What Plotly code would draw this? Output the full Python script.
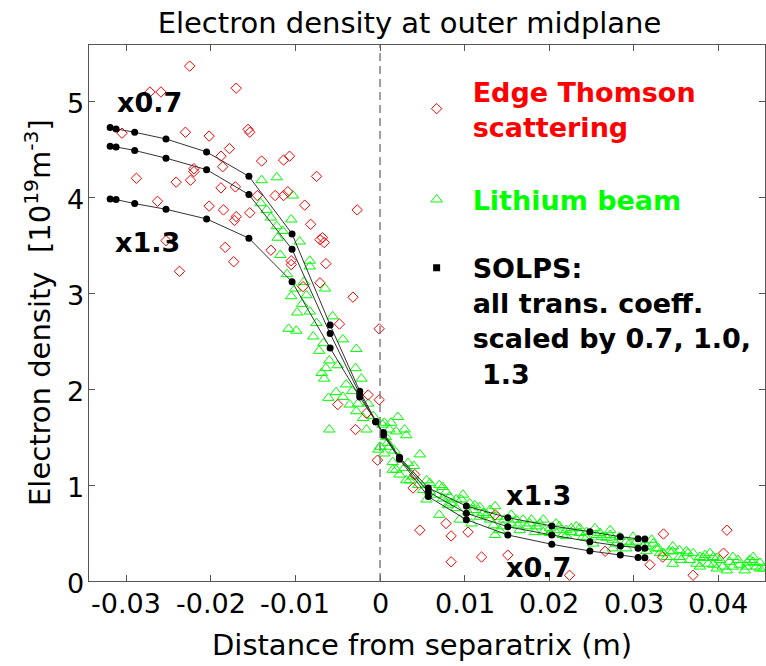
import plotly.graph_objects as go

# ---------------- data ----------------
x_tick_vals = [-0.03, -0.02, -0.01, 0, 0.01, 0.02, 0.03, 0.04]
x_tick_text = ["-0.03", "-0.02", "-0.01", "0", "0.01", "0.02", "0.03", "0.04"]
y_tick_vals = [0, 1, 2, 3, 4, 5]
y_tick_text = ["0", "1", "2", "3", "4", "5"]

# Edge Thomson scattering (x [m], ne [1e19 m^-3])
thomson_x = [-0.0225, -0.0272, -0.0259, -0.0170, -0.0305, -0.0230, -0.0202, -0.0156, -0.0154, -0.0178,
             -0.0188, -0.0186, -0.0220, -0.0220, -0.0140, -0.0114, -0.0107, -0.0288, -0.0241, -0.0224,
             -0.0188, -0.0171, -0.0145, -0.0124, -0.0114, -0.0109, -0.0075, -0.0263, -0.0202, -0.0185,
             -0.0170, -0.0172, -0.0154, -0.0089, -0.0082, -0.0027, -0.0253, -0.0183, -0.0129, -0.0071,
             -0.0066, -0.0068, -0.0237, -0.0173, -0.0105, -0.0105, -0.0064, -0.0091, -0.0071, -0.0032,
             -0.0048, -0.0001, -0.0014, -0.0001, -0.0050, -0.0016, -0.0029, -0.0003, 0.0041, 0.0039,
             0.0047, 0.0078, 0.0084, 0.0104, 0.0084, 0.0120, 0.0136, 0.0151, 0.0224, 0.0266,
             0.0319, 0.0335, 0.0334, 0.0370, 0.0406, 0.0410]
thomson_y = [5.37, 5.10, 5.10, 5.14, 4.67, 4.68, 4.64, 4.71, 4.68, 4.51,
             4.43, 4.32, 4.30, 4.27, 4.38, 4.39, 4.43, 4.20, 4.16, 4.18,
             4.10, 4.11, 4.02, 4.02, 4.02, 4.06, 4.22, 3.96, 3.91, 3.87,
             3.80, 3.76, 3.84, 3.92, 3.72, 3.87, 3.55, 3.48, 3.45, 3.56,
             3.53, 3.58, 3.23, 3.33, 3.34, 3.30, 3.31, 3.07, 3.11, 2.96,
             2.68, 2.63, 1.94, 1.89, 1.84, 1.75, 1.58, 1.26, 1.11, 0.97,
             0.53, 0.60, 0.47, 0.51, 0.20, 0.25, 0.69, 0.27, 0.06, 0.31,
             0.17, 0.49, 0.25, 0.06, 0.29, 0.53]

# Lithium beam
li_x = [-0.0140, -0.0122, -0.0103, -0.0141, -0.0134, -0.0129, -0.0105, -0.0122, -0.0115, -0.0121,
        -0.0095, -0.0083, -0.0083, -0.0090, -0.0065, -0.0105, -0.0092, -0.0083, -0.0098, -0.0056,
        -0.0075, -0.0108, -0.0099, -0.0044, -0.0067, -0.0028, -0.0064, -0.0029, -0.0069, -0.0066,
        -0.0022, -0.0052, -0.0061, -0.0044, -0.0036, -0.0026, -0.0014, -0.0028, -0.0060, -0.0016,
        0.0005, 0.0021, 0.0013, 0.0011, 0.0019, 0.0029, 0.0047, 0.0000, -0.0002, 0.0009,
        0.0015, 0.0019, 0.0029, 0.0023, 0.0031, 0.0039, 0.0059, 0.0074, 0.0051, 0.0067,
        0.0082, 0.0098, 0.0003, 0.0031, 0.0011, 0.0005, 0.0033, 0.0015, 0.0035, 0.0055,
        0.0070, 0.0059, 0.0074, 0.0055, 0.0080, 0.0090, 0.0110, 0.0118, 0.0136, 0.0070,
        0.0094, 0.0108, 0.0134, 0.0141, 0.0136, 0.0155, 0.0165, 0.0179, 0.0185, 0.0193,
        0.0206, 0.0220, 0.0226, 0.0236, 0.0244, 0.0220, 0.0256, 0.0268, 0.0275, 0.0291,
        0.0252, 0.0275, 0.0299, 0.0315, 0.0327, 0.0331, 0.0342, 0.0354, 0.0370, 0.0366,
        0.0382, 0.0394, 0.0402, 0.0413, 0.0425, 0.0437, 0.0445, 0.0453, 0.0346, 0.0378,
        0.0410, 0.0354, 0.0390, 0.0434, 0.0441, 0.0398,
        0.0090, 0.0106, 0.0118, 0.0126, 0.0130, 0.0145, 0.0161, 0.0173, 0.0189, 0.0201,
        0.0212, 0.0232, 0.0240, 0.0260, 0.0272, 0.0279, 0.0295, 0.0311, 0.0323, 0.0335,
        0.0346, 0.0362, 0.0378, 0.0394, 0.0417, 0.0433, 0.0449,
        0.0078, 0.0084, 0.0096, 0.0104, 0.0112, 0.0122, 0.0130, 0.0139, 0.0147, 0.0155,
        0.0163, 0.0169, 0.0177, 0.0183, 0.0193, 0.0201, 0.0208, 0.0216, 0.0226, 0.0236,
        0.0244, 0.0254, 0.0262, 0.0272, 0.0283, 0.0291, 0.0303, 0.0315, 0.0321, 0.0329,
        0.0339, 0.0346, 0.0356, 0.0364, 0.0374, 0.0384, 0.0388, 0.0398, 0.0405, 0.0417,
        0.0423, 0.0431, 0.0441, 0.0449,
        -0.0118, -0.0110, -0.0100, -0.0087, -0.0079, -0.0072, -0.0060, -0.0050, -0.0040, -0.0033,
        -0.0020, -0.0008, 0.0007, 0.0017, 0.0040, 0.0045]
li_y = [4.18, 4.21, 4.02, 3.94, 3.87, 3.79, 3.77, 3.70, 3.65, 3.58,
        3.54, 3.34, 3.28, 3.12, 3.05, 2.97, 2.89, 2.81, 2.80, 2.76,
        2.69, 2.63, 2.61, 2.52, 2.48, 2.42, 2.22, 2.22, 2.17, 2.11,
        2.11, 1.97, 1.91, 1.92, 1.84, 1.85, 1.85, 1.77, 1.58, 1.58,
        1.65, 1.71, 1.65, 1.58, 1.56, 1.58, 1.32, 1.40, 1.37, 1.44,
        1.24, 1.16, 1.18, 1.11, 1.05, 1.09, 1.02, 0.98, 0.95, 0.90,
        0.88, 0.90, 1.63, 1.52, 1.40, 1.33, 1.23, 1.16, 1.05, 1.05,
        1.00, 0.93, 0.86, 0.85, 0.79, 0.76, 0.74, 0.77, 0.78, 0.69,
        0.64, 0.60, 0.58, 0.53, 0.48, 0.60, 0.53, 0.64, 0.57, 0.51,
        0.53, 0.53, 0.55, 0.50, 0.51, 0.47, 0.48, 0.45, 0.43, 0.41,
        0.39, 0.34, 0.46, 0.36, 0.34, 0.29, 0.31, 0.25, 0.29, 0.22,
        0.24, 0.17, 0.22, 0.20, 0.17, 0.22, 0.15, 0.13, 0.18, 0.15,
        0.11, 0.32, 0.29, 0.19, 0.25, 0.13,
        0.85, 0.81, 0.67, 0.69, 0.64, 0.57, 0.64, 0.57, 0.60, 0.55,
        0.57, 0.57, 0.46, 0.50, 0.48, 0.39, 0.39, 0.36, 0.39, 0.29,
        0.36, 0.31, 0.25, 0.25, 0.25, 0.15, 0.19,
        0.93, 0.81, 0.85, 0.72, 0.79, 0.71, 0.74, 0.67, 0.64, 0.69,
        0.58, 0.64, 0.60, 0.51, 0.64, 0.50, 0.60, 0.48, 0.51, 0.55,
        0.45, 0.55, 0.46, 0.53, 0.46, 0.34, 0.41, 0.31, 0.43, 0.34,
        0.25, 0.31, 0.22, 0.29, 0.18, 0.27, 0.18, 0.24, 0.15, 0.15,
        0.22, 0.11, 0.20, 0.13,
        3.40, 3.20, 3.05, 2.98, 2.55, 2.40, 2.30, 2.25, 2.05, 1.98,
        1.70, 1.72, 1.50, 1.36, 1.20, 1.00]

# SOLPS profiles, transport coefficients scaled by 0.7, 1.0, 1.3
solps_x = [-0.0319, -0.0312, -0.0290, -0.0253, -0.0205, -0.0155, -0.0104, -0.0059, -0.0024, -0.0005,
           0.0004, 0.0023, 0.0057, 0.0102, 0.0151, 0.0203, 0.0248, 0.0284, 0.0305, 0.0313]
solps_07 = [4.73, 4.715, 4.68, 4.61, 4.475, 4.22, 3.62, 2.67, 1.98, 1.66,
            1.52, 1.27, 0.88, 0.64, 0.48, 0.383, 0.313, 0.271, 0.245, 0.243]
solps_10 = [4.535, 4.527, 4.49, 4.41, 4.29, 4.03, 3.46, 2.58, 1.95, 1.66,
            1.53, 1.28, 0.93, 0.706, 0.566, 0.48, 0.41, 0.365, 0.342, 0.341]
solps_13 = [3.985, 3.978, 3.936, 3.877, 3.776, 3.575, 3.12, 2.43, 1.92, 1.66,
            1.55, 1.29, 0.97, 0.782, 0.66, 0.574, 0.514, 0.462, 0.44, 0.438]

curve_labels = ["x0.7", "x1.3", "x1.3", "x0.7"]
label_x = [-0.0273, -0.0275, 0.0187, 0.0187]
label_y = [4.99, 3.53, 0.89, 0.14]

# ---------------- figure ----------------
FONT = "DejaVu Sans, Liberation Sans, Arial, sans-serif"
AX = "rgb(85,85,85)"

fig = go.Figure()

fig.add_trace(go.Scatter(
    x=li_x, y=li_y, mode="markers", name="Lithium beam", legend="legend2",
    marker=dict(symbol="triangle-up-open", size=10, color="#00ff00", line=dict(width=1, color="#00ff00"))))

fig.add_trace(go.Scatter(
    x=thomson_x, y=thomson_y, mode="markers", name="Edge Thomson<br>scattering", legend="legend",
    marker=dict(symbol="diamond-open", size=8, color="red", line=dict(width=1, color="red"))))

for ys in (solps_07, solps_10, solps_13):
    fig.add_trace(go.Scatter(
        x=solps_x, y=ys, mode="lines+markers", showlegend=False,
        line=dict(color="#333333", width=1),
        marker=dict(symbol="circle", size=7, color="black")))

fig.add_trace(go.Scatter(
    x=[None], y=[None], mode="markers", legend="legend3",
    name="SOLPS:<br>all trans. coeff.<br>scaled by 0.7, 1.0,<br>\u00a01.3",
    marker=dict(symbol="square", size=7, color="black")))

fig.add_vline(x=0, line=dict(color="rgb(110,110,110)", width=1.3, dash="8px,5px"))

# curve labels
for t, xx, yy in zip(curve_labels, label_x, label_y):
    fig.add_annotation(x=xx, y=yy, text="<b>%s</b>" % t, showarrow=False,
                       xanchor="center", yanchor="middle",
                       font=dict(family=FONT, size=27, color="black"))

# tick labels placed on the axes' own scales
for v, t in zip(x_tick_vals, x_tick_text):
    fig.add_annotation(x=v, xref="x", y=0, yref="paper", text=t, showarrow=False,
                       xanchor="center", yanchor="top", yshift=-5,
                       font=dict(family=FONT, size=27, color="black"))
for v, t in zip(y_tick_vals, y_tick_text):
    fig.add_annotation(x=0, xref="paper", y=v, yref="y", text=t, showarrow=False,
                       xanchor="right", yanchor="middle", xshift=-3, yshift=-2,
                       font=dict(family=FONT, size=27, color="black"))

# axis titles
fig.add_annotation(x=0.4926, xref="paper", y=0, yref="paper", yshift=-45,
                   text="Distance from separatrix (m)", showarrow=False,
                   xanchor="center", yanchor="top",
                   font=dict(family=FONT, size=29, color="black"))
fig.add_annotation(x=0, xref="paper", y=0.5, yref="paper", xshift=-30, textangle=-90,
                   text="Electron density\u00a0 [10<sup>19</sup>m<sup>-3</sup>]", showarrow=False,
                   xanchor="right", yanchor="middle",
                   font=dict(family=FONT, size=29, color="black"))

axis_common = dict(showline=True, linecolor=AX, linewidth=1.3, mirror="ticks",
                   ticks="inside", ticklen=6, tickwidth=1.2, tickcolor=AX,
                   showgrid=False, zeroline=False, automargin=False,
                   showticklabels=False)

fig.update_layout(
    width=766, height=666,
    margin=dict(l=89, r=1, t=45, b=85, autoexpand=False),
    paper_bgcolor="white", plot_bgcolor="white",
    title=dict(text="Electron density at outer midplane", x=409.5 / 766, xanchor="center", xref="container",
               y=0.9652, yanchor="middle", yref="container",
               font=dict(family=FONT, size=29, color="black")),
    xaxis=dict(range=[-0.0344, 0.0455], tickmode="array", tickvals=x_tick_vals, **axis_common),
    yaxis=dict(range=[0, 5.59], tickmode="array", tickvals=y_tick_vals, **axis_common),
    legend=dict(x=0.461, y=0.9588, xanchor="left", yanchor="top", itemwidth=62,
                bgcolor="rgba(0,0,0,0)", valign="middle",
                font=dict(family=FONT, size=27, color="red", weight="bold")),
    legend2=dict(x=0.461, y=0.7567, xanchor="left", yanchor="top", itemwidth=62,
                 bgcolor="rgba(0,0,0,0)", valign="middle",
                 font=dict(family=FONT, size=27, color="#00ff00", weight="bold")),
    legend3=dict(x=0.461, y=0.6293, xanchor="left", yanchor="top", itemwidth=62,
                 bgcolor="rgba(0,0,0,0)", valign="top",
                 font=dict(family=FONT, size=27, color="black", weight="bold")),
)

# remove the page's default 8px body margin so the figure sits at the window origin
fig.write_html("out.html", config={"displayModeBar": False},
               post_script="document.body.style.margin='0px'; document.body.style.overflow='hidden';")
